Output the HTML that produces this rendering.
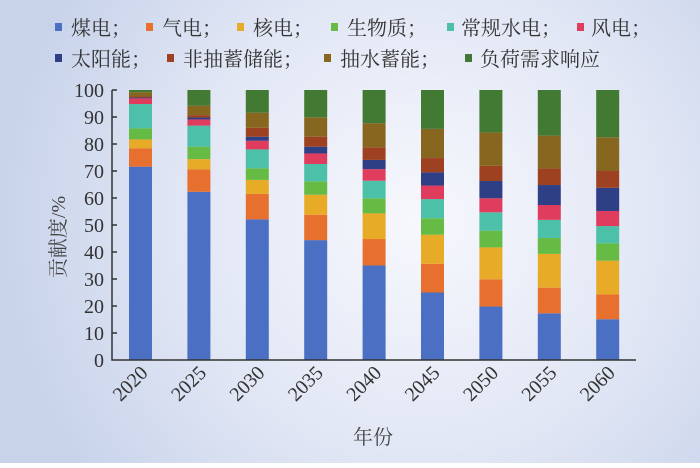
<!DOCTYPE html>
<html><head><meta charset="utf-8"><style>
html,body{margin:0;padding:0;}
body{width:700px;height:463px;overflow:hidden;}
</style></head><body>
<svg width="700" height="463" xmlns="http://www.w3.org/2000/svg" font-family="'Liberation Serif','Noto Serif CJK SC',serif">
<defs>
<radialGradient id="bg" cx="420" cy="220" r="420" gradientUnits="userSpaceOnUse">
<stop offset="0" stop-color="#f7f8fd"/><stop offset="0.55" stop-color="#e2e7f5"/><stop offset="1" stop-color="#c8d3ea"/>
</radialGradient>
</defs>
<rect width="700" height="463" fill="url(#bg)"/>
<g font-size="20" fill="#333">
<rect x="55" y="23" width="7" height="8" fill="#4a6fc3"/><text x="71" y="35">煤电；</text>
<rect x="146" y="23" width="7" height="8" fill="#e8702e"/><text x="162" y="35">气电；</text>
<rect x="237" y="23" width="7" height="8" fill="#e8ab28"/><text x="253" y="35">核电；</text>
<rect x="331" y="23" width="7" height="8" fill="#66bb44"/><text x="347" y="35">生物质；</text>
<rect x="447" y="23" width="7" height="8" fill="#4cc0a8"/><text x="461" y="35">常规水电；</text>
<rect x="577" y="23" width="7" height="8" fill="#e03c5e"/><text x="591" y="35">风电；</text>
<rect x="55" y="54" width="7" height="8" fill="#2e3f85"/><text x="71" y="66">太阳能；</text>
<rect x="167" y="54" width="7" height="8" fill="#9e4120"/><text x="183" y="66">非抽蓄储能；</text>
<rect x="324" y="54" width="7" height="8" fill="#87661f"/><text x="340" y="66">抽水蓄能；</text>
<rect x="465" y="54" width="7" height="8" fill="#437a33"/><text x="480" y="66">负荷需求响应</text>
</g>
<g id="bars"></g>
<g stroke="#333" stroke-width="1.5" fill="none">
<path d="M112 90 V360 H636"/>
<path d="M112 90h5M112 117h5M112 144h5M112 171h5M112 198h5M112 225h5M112 252h5M112 279h5M112 306h5M112 333h5"/>
</g>
<g font-size="20" fill="#333" text-anchor="end">
<text x="104" y="97">100</text><text x="104" y="124">90</text><text x="104" y="151">80</text><text x="104" y="178">70</text><text x="104" y="205">60</text><text x="104" y="232">50</text><text x="104" y="259">40</text><text x="104" y="286">30</text><text x="104" y="313">20</text><text x="104" y="340">10</text><text x="104" y="367">0</text>
</g>
<g font-size="20" fill="#333" id="xl"></g>
<text x="0" y="0" font-size="20" fill="#444" text-anchor="middle" transform="translate(65,237) rotate(-90)">贡献度/%</text>
<text x="373" y="444" font-size="20" fill="#444" text-anchor="middle">年份</text>
</svg>
<script>
var cols=["#4a6fc3","#e8702e","#e8ab28","#66bb44","#4cc0a8","#e03c5e","#2e3f85","#9e4120","#87661f","#437a33"];
var d=[[71.6,78.4,81.7,85.8,94.8,96.9,97.2,97.6,99.2,100],
[62.3,70.6,74.4,79,86.8,89.1,89.8,90.7,94.2,100],
[52.1,61.5,66.7,71,78,81.2,82.7,86,91.6,100],
[44.4,53.8,61.2,66.2,72.6,76.5,79,82.7,89.9,100],
[35,44.8,54.3,59.9,66.4,70.7,74.1,78.8,87.7,100],
[25,35.6,46.4,52.5,59.6,64.6,69.5,74.8,85.6,100],
[19.8,29.9,41.7,47.9,54.7,59.9,66.3,71.9,84.3,100],
[17.3,26.8,39.3,45.2,51.9,57.4,64.8,70.9,83.1,100],
[15.1,24.3,36.8,43.2,49.6,55.2,63.8,70,82.5,100]];
var yrs=[2020,2025,2030,2035,2040,2045,2050,2055,2060];
var ns="http://www.w3.org/2000/svg",g=document.getElementById("bars"),xl=document.getElementById("xl");
function Y(v){return 360-v*2.7;}
for(var i=0;i<9;i++){var x=129+i*58.4,prev=0;
for(var k=0;k<10;k++){var r=document.createElementNS(ns,"rect");r.setAttribute("x",x);r.setAttribute("width",23);
r.setAttribute("y",Y(d[i][k]));r.setAttribute("height",Y(prev)-Y(d[i][k]));r.setAttribute("fill",cols[k]);g.appendChild(r);prev=d[i][k];}
var t=document.createElementNS(ns,"text");t.setAttribute("text-anchor","end");t.setAttribute("transform","translate("+(x+20)+",374) rotate(-45)");t.textContent=yrs[i];xl.appendChild(t);}
</script>
</body></html>
